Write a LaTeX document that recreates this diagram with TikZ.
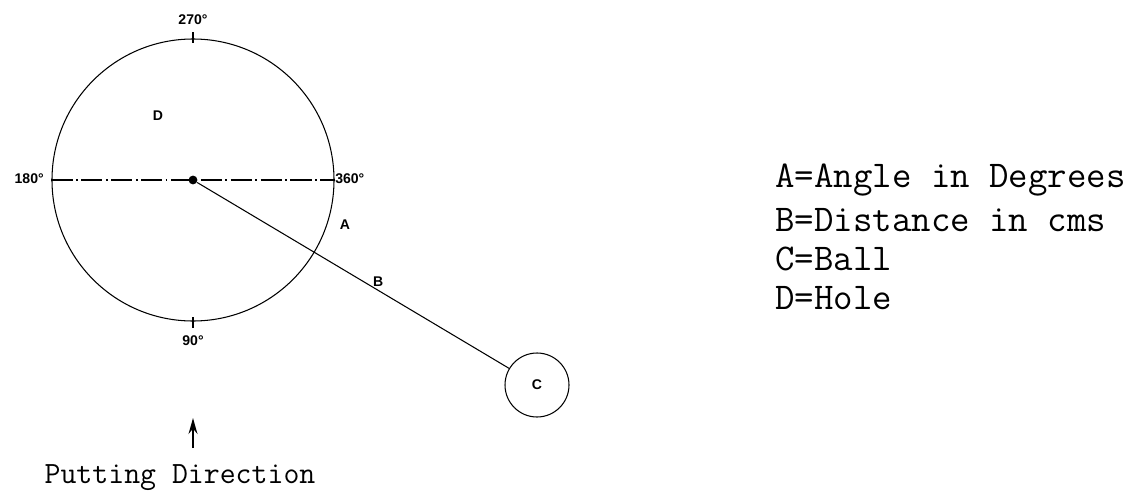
\documentclass[tikz,border=0pt]{standalone}
\usepackage{fontspec}
\setsansfont{Liberation Sans}
\usetikzlibrary{arrows.meta}
\tikzset{
  degmark/.style={font=\sffamily\bfseries\fontsize{8}{9}\selectfont, inner sep=1pt},
  legend/.style={font=\ttfamily\fontsize{21.5}{23}\selectfont, anchor=west, inner sep=0pt},
  axisline/.style={line width=0.6pt, dash pattern=on 12pt off 2pt on 1pt off 2pt}
}
\begin{document}
\begin{tikzpicture}[x=0.02cm,y=-0.02cm,line width=0.6pt]
\useasboundingbox (0,0) rectangle (1137,497);
% the hole and its degree marks
\node (rim) at (193,180) [circle, draw, minimum size=282*0.02cm, inner sep=0pt] {};
\node (centre) at (193,180) [circle, fill, minimum size=5pt, inner sep=0pt] {};
\draw (193,32) -- (193,43);
\draw (193,317) -- (193,328);
\draw[axisline] (rim.west) -- (rim.east);
\node[degmark] (t270) at (193,20) {270°};
\node[degmark] (t90) at (193,341) {90°};
\node[degmark, anchor=east] (t180) at (46,179) {180°};
\node[degmark, anchor=west] (t360) at (333,179) {360°};
\node[degmark] (D) at (158,116) {D};
\node[degmark] (A) at (345,225) {A};
% the ball
\node (ball) at (537,385) [circle, draw, minimum size=64*0.02cm, inner sep=0pt, font=\sffamily\bfseries\fontsize{8}{9}\selectfont] {C};
\path (centre) edge node[degmark, pos=0.58, above=1pt] {B} (ball);
% direction
\coordinate (arrlow) at (193,448);
\coordinate (arrhigh) at (193,418);
\draw[-{Stealth[length=9pt,width=5pt]}, line width=1.4pt] (arrlow) -- (arrhigh);
\node[font=\ttfamily\fontsize{17.6}{19}\selectfont] (putt) at (180,478) {Putting Direction};
% legend
\node[legend] (lA) at (775,180) {A=Angle in Degrees};
\node[legend] (lB) at (775,220) {B=Distance in cms};
\node[legend] (lC) at (775,259) {C=Ball};
\node[legend] (lD) at (775,298) {D=Hole};
\end{tikzpicture}
\end{document}
